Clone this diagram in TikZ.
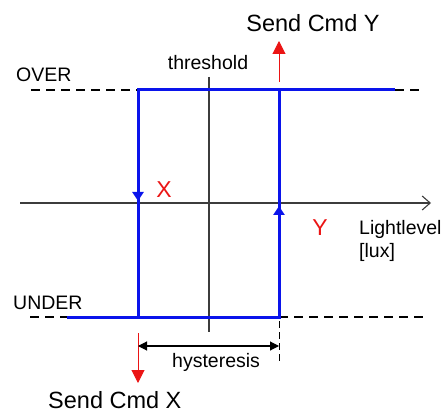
\documentclass[tikz,border=0pt]{standalone}
\usepackage{fontspec}
\setmainfont{Liberation Sans}
\usetikzlibrary{arrows.meta}
\definecolor{lineblue}{RGB}{10,20,235}
\definecolor{sendred}{RGB}{235,20,20}
\definecolor{axisgray}{RGB}{60,60,60}
\tikzset{
  blueline/.style={draw=lineblue,line width=3pt},
  dashline/.style={draw=black,line width=1.1pt,dash pattern=on 9pt off 6pt},
  axisline/.style={draw=axisgray,line width=1.1pt},
  redarrow/.style={draw=sendred,line width=1pt,-{Triangle[length=13pt,width=13pt,fill=sendred]}},
  lbl/.style={inner sep=0pt,font=\fontsize{19.5}{22}\selectfont},
  biglbl/.style={inner sep=0pt,font=\fontsize{23.5}{26}\selectfont},
  redlbl/.style={inner sep=0pt,text=sendred,font=\fontsize{23}{26}\selectfont},
}
\begin{document}
\begin{tikzpicture}[x=1pt,y=-1pt]
\useasboundingbox (0,0) rectangle (448,412);
% coordinates
\coordinate (overL) at (31,90);
\coordinate (overA) at (138,90);
\coordinate (overB) at (279,90);
\coordinate (overE) at (395,90);
\coordinate (overR) at (423,90);
\coordinate (underL) at (30,317);
\coordinate (underS) at (67,317);
\coordinate (underA) at (138,317);
\coordinate (underB) at (279,317);
\coordinate (underR) at (423,317);
\coordinate (axL) at (20,203);
\coordinate (axR) at (431,203);
\coordinate (thT) at (209,77);
\coordinate (thB) at (209,332);
% dashed levels
\draw[dashline] (overL) -- (overA);
\draw[dashline] (overE) -- (overR);
\draw[dashline] (underL) -- (underS);
\draw[dashline] (underB) -- (underR);
% axes
\draw[axisline,-{Straight Barb[length=8pt,width=14pt]}] (axL) -- (axR);
\draw[axisline] (thT) -- (thB);
% hysteresis loop
\draw[blueline] (overE) -- (overA) -- (underA);
\draw[blueline] (underS) -- (underB) -- (overB);
\coordinate (xa1) at (138,185);
\coordinate (xa2) at (138,201);
\coordinate (ya1) at (279,222);
\coordinate (ya2) at (279,206);
\draw[draw=lineblue,line width=3pt,-{Triangle[length=9pt,width=11pt]}] (xa1) -- (xa2);
\draw[draw=lineblue,line width=3pt,-{Triangle[length=9pt,width=11pt]}] (ya1) -- (ya2);
% red send arrows
\coordinate (ry1) at (279,82);
\coordinate (ry2) at (279,41);
\draw[redarrow] (ry1) -- (ry2);
\coordinate (rx1) at (138,333);
\coordinate (rx2) at (138,383);
\draw[redarrow] (rx1) -- (rx2);
% hysteresis dimension
\coordinate (hdA) at (138,346);
\coordinate (hdB) at (279,346);
\coordinate (hdT) at (279,321);
\coordinate (hdE) at (279,361);
\draw[draw=black,line width=1pt,dash pattern=on 7pt off 4pt] (hdT) -- (hdE);
\draw[draw=black,line width=1.1pt,{Triangle[length=9pt,width=9pt]}-{Triangle[length=9pt,width=9pt]}] (hdA) -- (hdB);
% labels
\node[biglbl,anchor=base] (sendY) at (313,32) {Send Cmd Y};
\node[lbl,anchor=base] (thr) at (208,70) {threshold};
\node[lbl,anchor=base west] (over) at (16,82) {OVER};
\node[redlbl,anchor=base] (lx) at (164,197) {X};
\node[redlbl,anchor=base] (ly) at (320,235) {Y};
\node[lbl,anchor=base west] (ll) at (359,234) {Lightlevel};
\node[lbl,anchor=base west] (lux) at (359,257) {[lux]};
\node[lbl,anchor=base west] (under) at (13,309) {UNDER};
\node[lbl,anchor=base west] (hys) at (172,367) {hysteresis};
\node[biglbl,anchor=base west] (sendX) at (48,408) {Send Cmd X};
\end{tikzpicture}
\end{document}
